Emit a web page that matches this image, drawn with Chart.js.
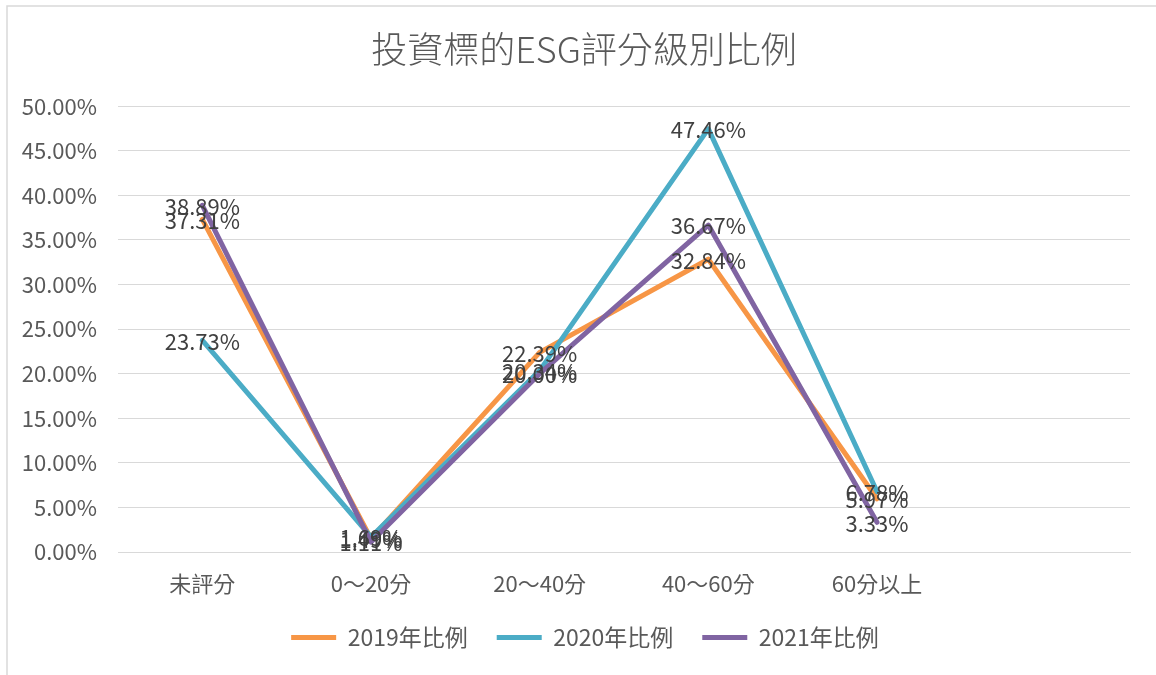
<!DOCTYPE html>
<html>
<head>
<meta charset="utf-8">
<script src="https://cdn.jsdelivr.net/npm/chart.js@4/dist/chart.umd.min.js"></script>
<style>
  html, body { margin: 0; padding: 0; background: #ffffff; }
  #wrap { width: 1156px; height: 675px; position: relative; }
</style>
</head>
<body>
<div id="wrap"><canvas id="c" width="1156" height="675"></canvas></div>
<script>
const titleText = '投資標的ESG評分級別比例';
const categories = ['未評分', '0～20分', '20～40分', '40～60分', '60分以上', ''];
const seriesNames = ['2019年比例', '2020年比例', '2021年比例'];
const values2019 = [37.31, 1.49, 22.39, 32.84, 5.97];
const values2020 = [23.73, 1.69, 20.34, 47.46, 6.78];
const values2021 = [38.89, 1.11, 20.00, 36.67, 3.33];
const seriesColors = ['#F79646', '#4BACC6', '#8064A2'];
const yTicks = [0, 5, 10, 15, 20, 25, 30, 35, 40, 45, 50];

const FONT = "'Noto Sans CJK TC', 'Noto Sans', sans-serif";
const allValues = [values2019, values2020, values2021];

const borderPlugin = {
  id: 'frame',
  beforeDraw(chart) {
    const ctx = chart.ctx;
    ctx.save();
    ctx.fillStyle = '#ffffff';
    ctx.fillRect(0, 0, chart.width, chart.height);
    ctx.strokeStyle = '#D9D9D9';
    ctx.lineWidth = 1.5;
    ctx.beginPath();
    ctx.moveTo(7, chart.height);
    ctx.lineTo(7, 6);
    ctx.lineTo(chart.width, 6);
    ctx.stroke();
    ctx.restore();
  }
};

// shift title/legend boxes slightly right, like the reference's centring
const shiftPlugin = {
  id: 'shiftBoxes',
  afterLayout(chart) {
    if (chart.titleBlock) { chart.titleBlock.left += 11; chart.titleBlock.right += 11; }
    if (chart.legend) { chart.legend.left += 12; chart.legend.right += 12; }
  }
};

const labelPlugin = {
  id: 'valueLabels',
  afterDatasetsDraw(chart) {
    const ctx = chart.ctx;
    ctx.save();
    ctx.font = '22px ' + FONT;
    ctx.fillStyle = '#404040';
    ctx.textAlign = 'center';
    ctx.textBaseline = 'middle';
    chart.data.datasets.forEach((ds, i) => {
      const meta = chart.getDatasetMeta(i);
      meta.data.forEach((pt, j) => {
        const v = ds.data[j];
        if (v === null || v === undefined) return;
        ctx.fillText(v.toFixed(2) + '%', pt.x, pt.y + 1);
      });
    });
    ctx.restore();
  }
};

const datasets = allValues.map((vals, i) => ({
  label: seriesNames[i],
  data: vals,
  borderColor: seriesColors[i],
  backgroundColor: seriesColors[i],
  borderWidth: 5,
  borderCapStyle: 'round',
  borderJoinStyle: 'round',
  pointRadius: 0,
  pointHoverRadius: 0,
  pointStyle: 'line',
  tension: 0,
  fill: false,
  order: 3 - i
}));

new Chart(document.getElementById('c'), {
  type: 'line',
  data: { labels: categories, datasets: datasets },
  plugins: [borderPlugin, shiftPlugin, labelPlugin],
  options: {
    responsive: false,
    animation: false,
    layout: { padding: { top: 0, left: 16, right: 26, bottom: 16 } },
    plugins: {
      tooltip: { enabled: false },
      title: {
        display: true,
        text: titleText,
        color: '#595959',
        font: { family: FONT, size: 36, weight: 300 },
        padding: { top: 28, bottom: 35 }
      },
      legend: {
        display: true,
        position: 'bottom',
        labels: {
          sort: (a, b) => a.datasetIndex - b.datasetIndex,
          usePointStyle: true,
          pointStyleWidth: 45,
          boxHeight: 5,
          padding: 29,
          color: '#595959',
          font: { family: FONT, size: 23 }
        }
      }
    },
    scales: {
      x: {
        offset: true,
        grid: { display: false, drawTicks: false },
        border: { display: true, color: '#D9D9D9', width: 1 },
        ticks: {
          color: '#595959',
          font: { family: FONT, size: 22 },
          padding: 18,
          maxRotation: 0,
          autoSkip: false
        },
        afterFit(scale) { scale.height = 45; }
      },
      y: {
        min: 0,
        max: 50,
        afterBuildTicks(scale) { scale.ticks = yTicks.map(v => ({ value: v })); },
        grid: { color: '#D9D9D9', lineWidth: 1, drawTicks: false },
        border: { display: false },
        ticks: {
          color: '#595959',
          font: { family: FONT, size: 22 },
          padding: 21,
          callback: (v) => Number(v).toFixed(2) + '%'
        },
        afterFit(scale) { scale.width = 102; }
      }
    }
  }
});
</script>
</body>
</html>
